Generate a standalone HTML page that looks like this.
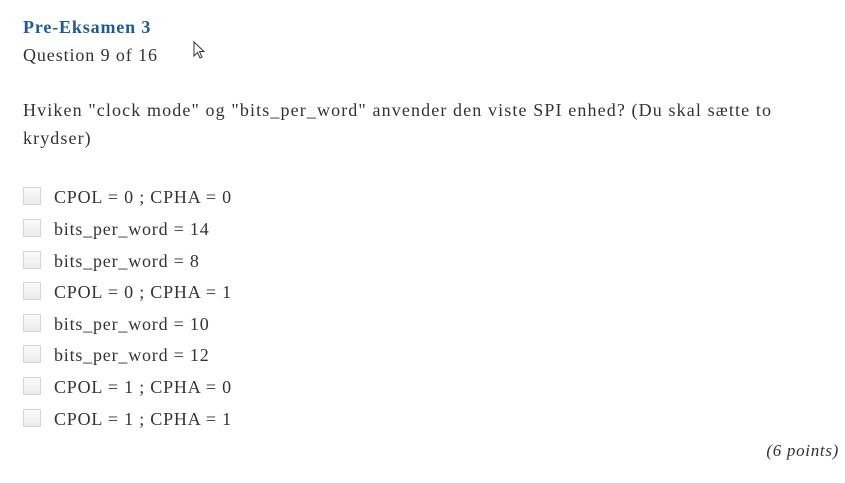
<!DOCTYPE html>
<html><head><meta charset="utf-8"><style>
body{margin:0;width:845px;height:483px;background:#fff;font-family:"Liberation Serif",serif;color:#333;position:relative;overflow:hidden}
.t{position:absolute;white-space:nowrap;letter-spacing:0.8px}
.cb{position:absolute;left:23px;width:16px;height:16px;border:1px solid #d4d4d4;background:linear-gradient(#fafafa,#ececec);border-radius:1px}
</style></head><body>
<div class="t" style="left:23px;top:17px;font-size:18px;font-weight:bold;color:#1d5a99;letter-spacing:0.85px">Pre-Eksamen 3</div>
<div class="t" style="left:23px;top:45px;font-size:18px;letter-spacing:0.9px">Question 9 of 16</div>
<svg class="t" style="left:193px;top:41px" width="14" height="20"><path d="M1,1 L1,15 L4.5,11.5 L7,17 L9,16 L6.5,10.5 L11,10.5 Z" fill="#fff" stroke="#333" stroke-width="1"/></svg>
<div class="t" style="left:23px;top:100px;font-size:18px;letter-spacing:1.12px">Hviken "clock mode" og "bits_per_word" anvender den viste SPI enhed? (Du skal sætte to</div>
<div class="t" style="left:23px;top:128px;font-size:18px;letter-spacing:1.1px">krydser)</div>
<div class="cb" style="top:187px"></div><div class="t" style="left:54px;top:187px;font-size:18px">CPOL = 0 ; CPHA = 0</div>
<div class="cb" style="top:219px"></div><div class="t" style="left:54px;top:219px;font-size:18px">bits_per_word = 14</div>
<div class="cb" style="top:251px"></div><div class="t" style="left:54px;top:251px;font-size:18px">bits_per_word = 8</div>
<div class="cb" style="top:282px"></div><div class="t" style="left:54px;top:282px;font-size:18px">CPOL = 0 ; CPHA = 1</div>
<div class="cb" style="top:314px"></div><div class="t" style="left:54px;top:314px;font-size:18px">bits_per_word = 10</div>
<div class="cb" style="top:345px"></div><div class="t" style="left:54px;top:345px;font-size:18px">bits_per_word = 12</div>
<div class="cb" style="top:377px"></div><div class="t" style="left:54px;top:377px;font-size:18px">CPOL = 1 ; CPHA = 0</div>
<div class="cb" style="top:409px"></div><div class="t" style="left:54px;top:409px;font-size:18px">CPOL = 1 ; CPHA = 1</div>
<div class="t" style="right:6px;top:441px;font-size:17px;font-style:italic;letter-spacing:0.7px">(6 points)</div>
</body></html>
